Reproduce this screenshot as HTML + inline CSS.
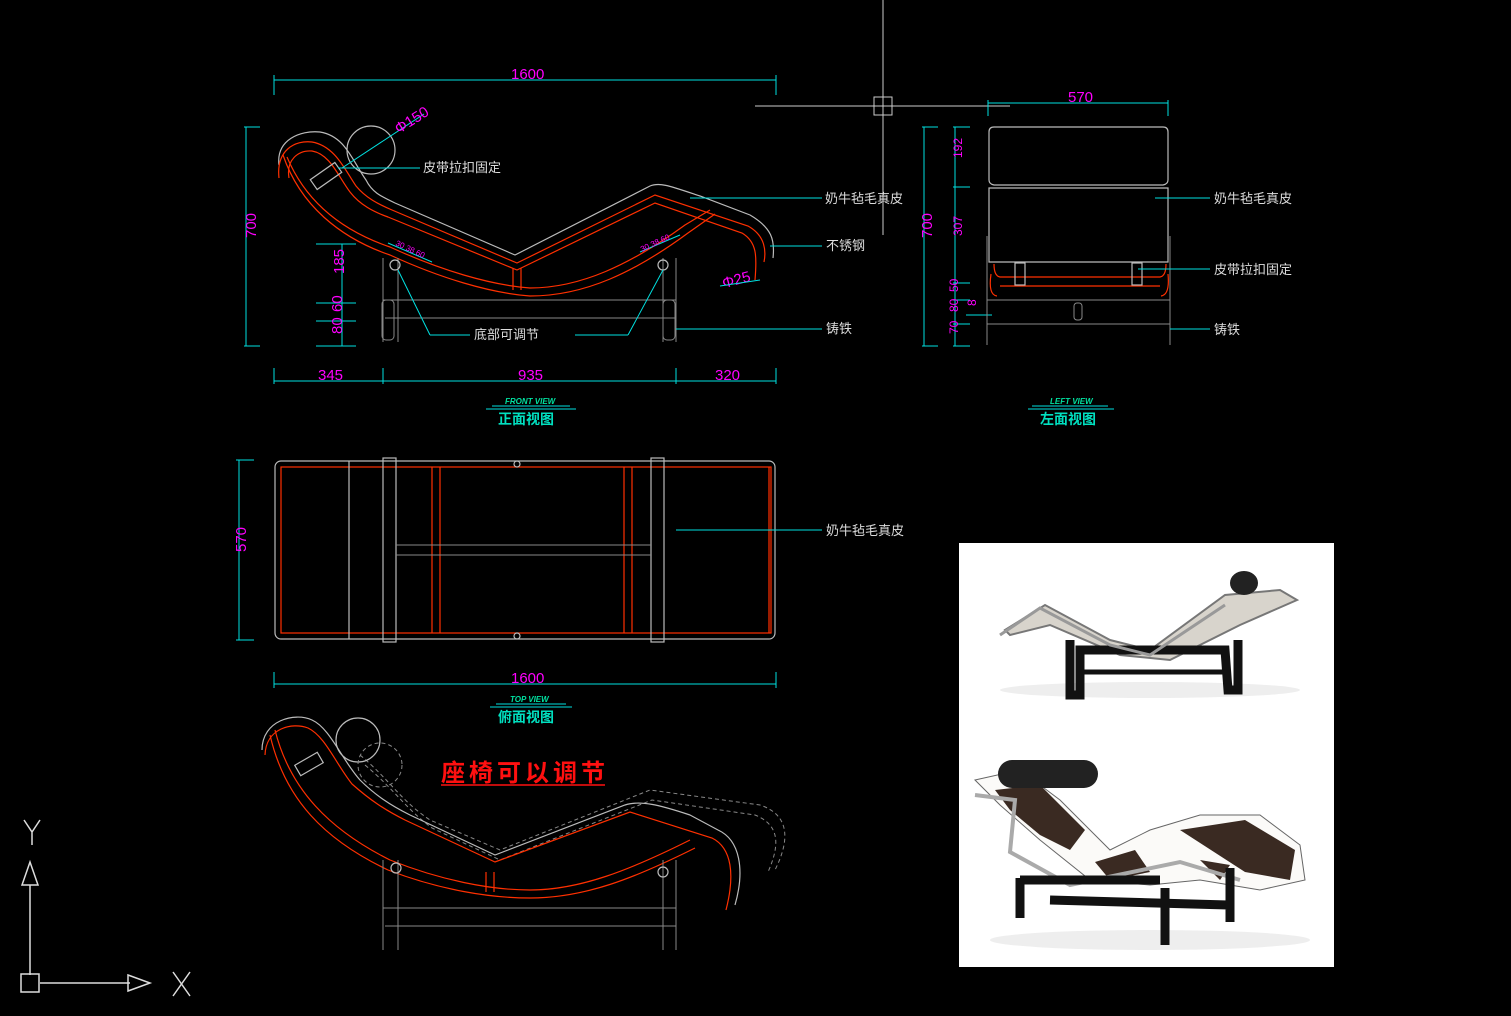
<!DOCTYPE html>
<html><head><meta charset="utf-8"><style>
html,body{margin:0;padding:0;background:#000;}
svg{display:block}
text{font-family:"Liberation Sans","Noto Sans CJK SC",sans-serif;}
.c{stroke:#00e0e0;stroke-width:1;fill:none}
.m{fill:#ff00ff;font-size:15px;font-family:"Liberation Sans Narrow","Liberation Sans",sans-serif}
.s{fill:#ff00ff;font-size:12px;font-family:"Liberation Sans Narrow","Liberation Sans",sans-serif}
.w{fill:#ddd;font-size:13px}
.r{stroke:#ff3000;stroke-width:1.2;fill:none}
.g{stroke:#bbb;stroke-width:1.2;fill:none}
.d{stroke:#888;stroke-width:1;fill:none}
</style></head><body>
<svg width="1511" height="1016" viewBox="0 0 1511 1016" xmlns="http://www.w3.org/2000/svg">
<rect width="1511" height="1016" fill="#000"/>
<g stroke="#ccc" stroke-width="1" fill="none">
<line x1="883" y1="0" x2="883" y2="235"/><line x1="755" y1="106" x2="1010" y2="106"/>
<rect x="874" y="97" width="18" height="18"/>
</g>
<!-- FRONT VIEW -->
<g>
<line class="c" x1="274" y1="80" x2="776" y2="80"/><line class="c" x1="274" y1="75" x2="274" y2="95"/><line class="c" x1="776" y1="75" x2="776" y2="95"/>
<text class="m" x="511" y="79">1600</text>
<line class="c" x1="246" y1="127" x2="246" y2="346"/><line class="c" x1="244" y1="127" x2="260" y2="127"/><line class="c" x1="244" y1="346" x2="260" y2="346"/>
<text class="m" x="244" y="250" transform="rotate(-90 244 238)">700</text>
<line class="c" x1="342" y1="244" x2="342" y2="346"/>
<line class="c" x1="316" y1="244" x2="356" y2="244"/><line class="c" x1="316" y1="303" x2="356" y2="303"/><line class="c" x1="316" y1="321" x2="356" y2="321"/><line class="c" x1="316" y1="346" x2="356" y2="346"/>
<text class="m" x="334" y="284" transform="rotate(-90 334 274)">185</text>
<text class="m" x="334" y="320" transform="rotate(-90 334 312)">60</text>
<text class="m" x="334" y="342" transform="rotate(-90 334 334)">80</text>
<line class="c" x1="274" y1="381" x2="776" y2="381"/>
<line class="c" x1="274" y1="368" x2="274" y2="384"/><line class="c" x1="383" y1="368" x2="383" y2="384"/><line class="c" x1="676" y1="368" x2="676" y2="384"/><line class="c" x1="776" y1="368" x2="776" y2="384"/>
<text class="m" x="318" y="380">345</text><text class="m" x="518" y="380">935</text><text class="m" x="715" y="380">320</text>
<line class="c" x1="492" y1="406" x2="570" y2="406"/><line class="c" x1="486" y1="409" x2="576" y2="409"/>
<text x="505" y="404" fill="#00e0a0" font-size="8" font-style="italic" font-weight="bold">FRONT VIEW</text>
<text x="498" y="424" fill="#00e0c0" font-size="14" font-weight="bold">正面视图</text>
<path class="g" d="M279,165 C276,140 300,130 320,132 C345,136 352,160 366,180 C372,192 380,196 395,203 L515,255 L650,186 C660,182 670,186 700,196 L750,215 C772,228 775,240 773,258"/>
<path class="r" d="M279,178 C276,150 295,140 312,142 C335,146 345,170 356,186 C366,198 378,204 392,210 L517,263 L655,195 L748,226 C766,236 766,252 764,262"/>
<path class="r" d="M289,178 C286,160 298,150 312,151 C330,154 338,176 350,192 C360,205 374,212 388,217 L517,270 L655,203 L742,233 C757,242 757,256 755,280"/>
<path class="r" d="M287,157 C305,200 340,230 390,247 C440,270 490,285 530,288 C580,288 630,265 685,225 L710,210"/>
<path class="r" d="M283,155 C300,205 340,238 390,255 C440,278 490,293 530,296 C585,296 635,272 688,233 L715,214"/>
<line class="r" x1="513" y1="268" x2="513" y2="290"/><line class="r" x1="521" y1="268" x2="521" y2="290"/>
<circle cx="371" cy="150" r="24" class="g"/>
<line class="c" x1="342" y1="168" x2="424" y2="114"/>
<text class="m" x="394" y="132" transform="rotate(-32 400 125)">Φ150</text>
<rect x="311" y="170" width="30" height="12" class="g" transform="rotate(-35 326 176)"/>
<line class="c" x1="338" y1="168" x2="420" y2="168"/>
<text class="w" x="423" y="172">皮带拉扣固定</text>
<text class="m" x="722" y="285" transform="rotate(-15 735 280)">Φ25</text>
<line class="c" x1="720" y1="286" x2="760" y2="280"/>
<g class="d">
<path d="M383,258 L383,342 M398,258 L398,342 M383,300 L676,300 M385,318 L676,318 M663,258 L663,342 M676,258 L676,342"/>
<rect x="382" y="300" width="12" height="40" rx="4"/><rect x="663" y="300" width="12" height="40" rx="4"/>
</g>
<circle cx="395" cy="265" r="5" class="g"/><circle cx="663" cy="265" r="5" class="g"/>
<line class="c" x1="398" y1="270" x2="430" y2="335"/><line class="c" x1="430" y1="335" x2="470" y2="335"/>
<line class="c" x1="663" y1="270" x2="628" y2="335"/><line class="c" x1="575" y1="335" x2="628" y2="335"/>
<text class="w" x="474" y="339">底部可调节</text>
<line class="c" x1="388" y1="243" x2="432" y2="262"/><line class="c" x1="640" y1="252" x2="680" y2="235"/>
<text fill="#ff00ff" font-size="8" x="395" y="245" transform="rotate(25 395 245)">30 38 60</text>
<text fill="#ff00ff" font-size="8" x="642" y="252" transform="rotate(-25 642 252)">30 38 60</text>
<line class="c" x1="690" y1="198" x2="822" y2="198"/><text class="w" x="825" y="203">奶牛毡毛真皮</text>
<line class="c" x1="770" y1="246" x2="822" y2="246"/><text class="w" x="826" y="250">不锈钢</text>
<line class="c" x1="676" y1="329" x2="822" y2="329"/><text class="w" x="826" y="333">铸铁</text>
</g>
<!-- LEFT VIEW -->
<g>
<line class="c" x1="988" y1="103" x2="1168" y2="103"/><line class="c" x1="988" y1="100" x2="988" y2="116"/><line class="c" x1="1168" y1="100" x2="1168" y2="116"/>
<text class="m" x="1068" y="102">570</text>
<line class="c" x1="924" y1="127" x2="924" y2="346"/><line class="c" x1="922" y1="127" x2="938" y2="127"/><line class="c" x1="922" y1="346" x2="938" y2="346"/>
<line class="c" x1="955" y1="127" x2="955" y2="346"/>
<g class="c"><line x1="953" y1="127" x2="970" y2="127"/><line x1="953" y1="187" x2="970" y2="187"/><line x1="953" y1="283" x2="970" y2="283"/><line x1="953" y1="300" x2="970" y2="300"/><line x1="953" y1="324" x2="970" y2="324"/><line x1="953" y1="346" x2="970" y2="346"/></g>
<text class="m" x="920" y="250" transform="rotate(-90 920 238)">700</text>
<text class="s" x="952" y="168" transform="rotate(-90 952 158)">192</text>
<text class="s" x="952" y="246" transform="rotate(-90 952 236)">307</text>
<text class="s" x="952" y="298" transform="rotate(-90 952 292)">50</text>
<text class="s" x="952" y="318" transform="rotate(-90 952 312)">80</text>
<text class="s" x="952" y="340" transform="rotate(-90 952 334)">70</text>
<text class="s" x="976" y="314" transform="rotate(-90 972 310)">8</text>
<line class="c" x1="966" y1="315" x2="992" y2="315"/>
<path class="g" d="M989,180 L989,132 Q989,127 994,127 L1163,127 Q1168,127 1168,132 L1168,180 Q1168,184 1163,185 L994,185 Q989,184 989,180 Z"/>
<path class="g" d="M989,262 L989,188 L1168,188 L1168,262 Z"/>
<g class="d"><line x1="987" y1="236" x2="987" y2="345"/><line x1="1170" y1="236" x2="1170" y2="345"/><line x1="987" y1="300" x2="1170" y2="300"/><line x1="987" y1="324" x2="1170" y2="324"/><rect x="1074" y="303" width="8" height="17" rx="3"/></g>
<path class="r" d="M994,264 Q994,276 1000,277 L1160,277 Q1166,276 1166,264 M991,274 Q988,295 997,296 M1168,274 Q1170,295 1161,296 M1000,286 L1160,286"/>
<rect x="1015" y="263" width="10" height="22" class="g"/><rect x="1132" y="263" width="10" height="22" class="g"/>
<line class="c" x1="1155" y1="198" x2="1210" y2="198"/><text class="w" x="1214" y="203">奶牛毡毛真皮</text>
<line class="c" x1="1138" y1="269" x2="1210" y2="269"/><text class="w" x="1214" y="274">皮带拉扣固定</text>
<line class="c" x1="1170" y1="329" x2="1210" y2="329"/><text class="w" x="1214" y="334">铸铁</text>
<line class="c" x1="1032" y1="406" x2="1108" y2="406"/><line class="c" x1="1028" y1="409" x2="1114" y2="409"/>
<text x="1050" y="404" fill="#00e0a0" font-size="8" font-style="italic" font-weight="bold">LEFT VIEW</text>
<text x="1040" y="424" fill="#00e0c0" font-size="14" font-weight="bold">左面视图</text>
</g>
<!-- TOP VIEW -->
<g>
<line class="c" x1="239" y1="460" x2="239" y2="640"/><line class="c" x1="236" y1="460" x2="254" y2="460"/><line class="c" x1="236" y1="640" x2="254" y2="640"/>
<text class="m" x="236" y="562" transform="rotate(-90 236 552)">570</text>
<rect x="275" y="461" width="500" height="178" rx="6" class="g"/>
<rect x="281" y="467" width="490" height="166" class="r"/>
<line class="g" x1="349" y1="461" x2="349" y2="639"/>
<rect x="383" y="458" width="13" height="184" class="g"/><rect x="651" y="458" width="13" height="184" class="g"/>
<g class="r"><line x1="432" y1="467" x2="432" y2="633"/><line x1="440" y1="467" x2="440" y2="633"/><line x1="624" y1="467" x2="624" y2="633"/><line x1="632" y1="467" x2="632" y2="633"/><line x1="769" y1="467" x2="769" y2="633"/></g>
<line class="d" x1="396" y1="545" x2="651" y2="545"/><line class="d" x1="396" y1="555" x2="651" y2="555"/>
<circle cx="517" cy="464" r="3" class="g"/><circle cx="517" cy="636" r="3" class="g"/>
<line class="c" x1="676" y1="530" x2="822" y2="530"/><text class="w" x="826" y="535">奶牛毡毛真皮</text>
<line class="c" x1="274" y1="684" x2="776" y2="684"/><line class="c" x1="274" y1="672" x2="274" y2="688"/><line class="c" x1="776" y1="672" x2="776" y2="688"/>
<text class="m" x="511" y="683">1600</text>
<line class="c" x1="496" y1="704" x2="566" y2="704"/><line class="c" x1="490" y1="707" x2="572" y2="707"/>
<text x="510" y="702" fill="#00e0a0" font-size="8" font-style="italic" font-weight="bold">TOP VIEW</text>
<text x="498" y="722" fill="#00e0c0" font-size="14" font-weight="bold">俯面视图</text>
</g>
<!-- adjustable view -->
<g>
<path class="d" stroke-dasharray="4,3" d="M360,755 C390,780 400,800 430,820 L500,850 L650,790 L760,805 C790,815 790,840 775,870"/>
<path class="d" stroke-dasharray="4,3" d="M365,765 C395,790 405,808 432,828 L500,860 L652,800 L755,815 C780,825 780,845 768,872"/>
<path class="g" d="M262,750 C262,720 295,712 312,720 C330,728 342,760 360,780 C375,795 390,805 410,815 L495,855 L625,805 C640,800 660,805 690,815 L718,830 C740,840 745,870 735,905"/>
<path class="r" d="M265,755 C266,728 292,722 308,728 C325,736 336,764 352,784 C370,800 385,810 405,820 L495,862 L630,812 L712,838 C732,848 735,875 726,910"/>
<path class="r" d="M275,730 C290,790 330,830 390,860 C440,880 490,890 530,890 C580,890 630,870 690,840"/>
<path class="r" d="M270,735 C285,800 325,840 388,870 C440,890 490,898 530,898 C585,898 635,878 695,848"/>
<line class="r" x1="486" y1="872" x2="486" y2="892"/><line class="r" x1="494" y1="872" x2="494" y2="892"/>
<circle cx="358" cy="740" r="22" class="g"/>
<circle cx="380" cy="765" r="22" class="d" stroke-dasharray="4,3"/>
<rect x="296" y="758" width="26" height="12" class="g" transform="rotate(-30 309 764)"/>
<g class="d"><path d="M383,860 L383,950 M398,860 L398,950 M383,908 L676,908 M385,926 L676,926 M663,860 L663,950 M676,860 L676,950"/></g>
<circle cx="396" cy="868" r="5" class="g"/><circle cx="663" cy="872" r="5" class="g"/>
<text x="441" y="781" fill="#ff1010" font-size="24" font-weight="bold" font-family="'Liberation Serif','Noto Serif CJK SC',serif" textLength="164">座椅可以调节</text>
<line x1="441" y1="785" x2="605" y2="785" stroke="#ff1010" stroke-width="1.5"/>
</g>
<!-- UCS icon -->
<g stroke="#ddd" stroke-width="1.5" fill="none">
<line x1="30" y1="885" x2="30" y2="975"/><polygon points="22,885 30,862 38,885"/>
<line x1="40" y1="983" x2="130" y2="983"/><polygon points="128,975 150,983 128,991"/>
<rect x="21" y="974" width="18" height="18"/>
<path d="M24,820 L32,832 L40,820 M32,832 L32,845"/>
<path d="M173,972 L190,996 M190,972 L173,996"/>
</g>
<!-- photo -->
<rect x="959" y="543" width="375" height="424" fill="#fff"/>
<g>
<ellipse cx="1150" cy="690" rx="150" ry="8" fill="#eee"/>
<path d="M1005,630 L1045,605 L1110,640 L1150,650 L1225,595 L1280,590 L1297,600 L1240,625 L1170,660 L1120,655 L1050,625 L1010,635 Z" fill="#d8d4cc" stroke="#777" stroke-width="2"/>
<ellipse cx="1244" cy="583" rx="14" ry="12" fill="#222"/>
<path d="M1070,640 L1070,695 L1080,695 L1080,650 L1225,650 L1228,690 L1238,690 L1238,640" stroke="#111" stroke-width="9" fill="none"/>
<line x1="1080" y1="672" x2="1230" y2="672" stroke="#111" stroke-width="5"/>
<path d="M1000,635 L1040,608 L1110,645 L1150,655 L1225,605" stroke="#999" stroke-width="3" fill="none"/>
<ellipse cx="1150" cy="940" rx="160" ry="10" fill="#eee"/>
<path d="M975,780 L1020,770 L1060,800 L1110,850 L1150,830 L1200,815 L1260,815 L1300,845 L1305,880 L1260,890 L1200,880 L1150,885 L1090,880 L1040,840 L1000,805 Z" fill="#fbfaf8" stroke="#666" stroke-width="1"/>
<path d="M995,790 L1040,785 L1085,830 L1070,850 L1040,835 L1010,810 Z M1180,830 L1245,820 L1295,850 L1290,880 L1245,872 Z M1095,862 L1135,850 L1150,872 L1110,880 Z M1200,860 L1230,865 L1220,880 Z" fill="#3a2a22"/>
<rect x="998" y="760" width="100" height="28" rx="14" fill="#222"/>
<path d="M975,795 L1015,800 L1010,852 L1070,885 L1180,862 L1240,880" stroke="#aaa" stroke-width="4" fill="none"/>
<path d="M1020,878 L1020,918 M1165,888 L1165,945 M1230,868 L1230,922 M1050,900 L1228,905 M1020,880 L1160,880" stroke="#111" stroke-width="9" fill="none"/>
</g>
</svg>
</body></html>
